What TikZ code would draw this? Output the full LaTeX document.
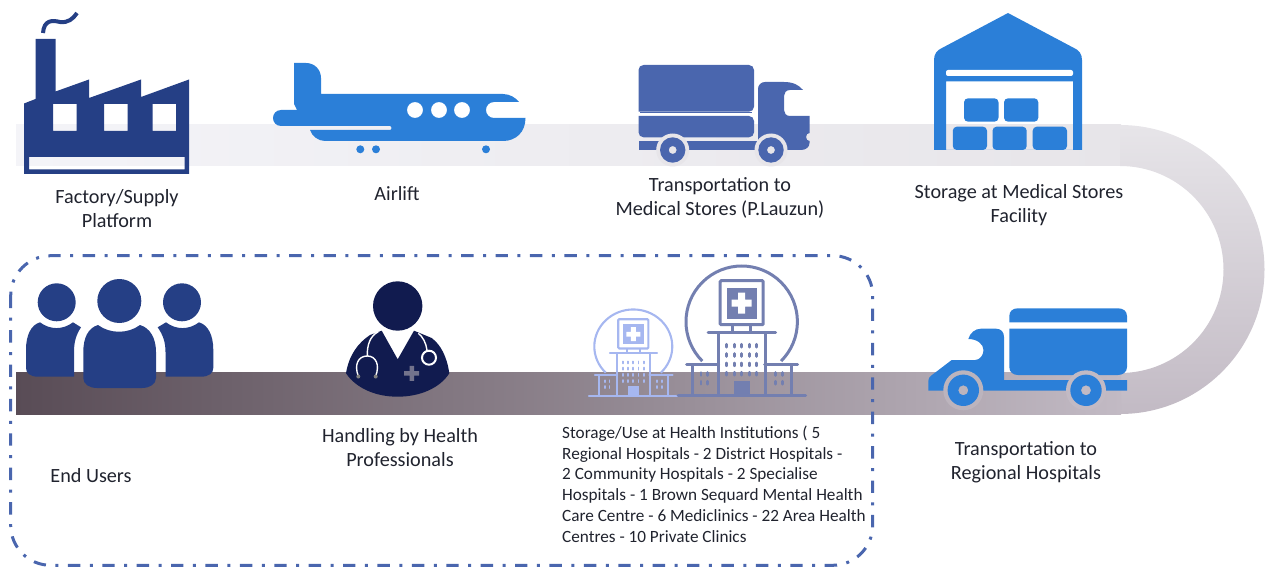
\documentclass[tikz,border=0pt]{standalone}
\usepackage{fontspec}
\setmainfont{Carlito}
\definecolor{navy}{HTML}{253F85}
\definecolor{bluei}{HTML}{2B7FD8}
\definecolor{slate}{HTML}{4A66AE}
\definecolor{docblue}{HTML}{111B4F}
\definecolor{hospA}{HTML}{737FB0}
\definecolor{hospB}{HTML}{A6B7F0}
\definecolor{bandA}{HTML}{F4F4F8}
\definecolor{bandB}{HTML}{E7E5E9}
\definecolor{bandC}{HTML}{C2BAC4}
\definecolor{bandD}{HTML}{594C56}
\definecolor{ink}{HTML}{20232E}
\tikzset{
  lbl/.style={font=\fontsize{20.2}{24}\selectfont,text=ink,align=center,inner sep=0pt,anchor=center},
  small/.style={font=\fontsize{17.2}{20.8}\selectfont,text=ink,align=left,inner sep=0pt,anchor=north west},
}
% hospital icon: centre x, base y, x scale, y scale, colour
\newcommand{\hospicon}[5]{%
\begin{scope}[shift={(#1,#2)},x=#3pt,y=-#4pt,draw=#5,fill=#5,line width=#3*3pt]
  \draw (0,-74) ++(135:55.7) arc[start angle=135,end angle=405,radius=55.7];
  \draw[rounded corners=1pt] (-21.5,-115) rectangle (21.5,-71);
  \fill (-15,-108) rectangle (15,-77);
  \fill[white] (-10,-96) rectangle (10,-89) (-3.5,-103) rectangle (3.5,-82);
  \draw (-9,-71) -- (-9,-64) (9,-71) -- (9,-64);
  \draw[line cap=round] (-33.5,-63.7) -- (34,-63.7);
  \draw (-23.5,-63) -- (-23.5,0) (23.5,-63) -- (23.5,0);
  \draw[line cap=round] (-55,-31.7) -- (-23,-31.7) (23,-31.7) -- (56,-31.7);
  \draw (-49,-31) -- (-49,0) (50,-31) -- (50,0);
  \draw[line cap=round] (-63.5,0) -- (64,0);
  \fill (-8,-15) rectangle (8,0);
  \foreach \cx in {-15,-7.5,0,7.5,15}
    \foreach \cy in {-50,-40.7,-31.3,-22}
      \draw[line width=#3*2.6pt,line cap=round] (\cx,\cy-1.5) -- (\cx,\cy+1.5);
  \foreach \cx in {-40.7,-34,34,41}
    \foreach \cy in {-21.7,-13}
      \draw[line width=#3*2.6pt,line cap=round] (\cx,\cy-1.5) -- (\cx,\cy+1.5);
\end{scope}}
\begin{document}
\begin{tikzpicture}[x=1pt,y=-1pt]
\useasboundingbox (0,0) rectangle (1267,567);
% bands
\shade[left color=bandA,right color=bandB] (16,125) rectangle (1121,166);
\shade[top color=bandB,bottom color=bandC] (1120,125) arc[start angle=270,end angle=450,radius=144.5] -- (1120,373) arc[start angle=450,end angle=270,radius=103.5] -- cycle;
\shade[left color=bandD,right color=bandC] (16,372) rectangle (1121,414);
% factory
\fill[navy,even odd rule] (24,103.5) -- (35.5,99) -- (35.5,39) -- (55.5,39) -- (55.5,91.5) -- (89,79.5) -- (89,98) -- (141,79.5) -- (141,97) -- (189,79.5) -- (189,174) -- (24,174) -- cycle
  (53,104) rectangle (76.5,131) (104,104) rectangle (127.5,131) (152.5,104) rectangle (176,131) (29,157) rectangle (184.5,169.5);
\draw[navy,line width=4pt] (43,33) .. controls (44,20) and (52,20) .. (60,22) .. controls (68,23) and (73,19) .. (77,13);
% plane
\fill[bluei,even odd rule] (294,63) -- (306,63) .. controls (315,63) and (321,70) .. (321,78) -- (321,94) -- (503,94) .. controls (510,94) and (516,98) .. (519,102) -- (494,102) .. controls (489,102) and (486,106) .. (486,110) .. controls (486,114) and (489,118) .. (494,118) -- (525.5,118) .. controls (525.5,132) and (516,141) .. (503,141) -- (325,141) .. controls (318,141) and (312,136) .. (310,130) -- (390,130) .. controls (392,130) and (392,126) .. (390,126) -- (281,126) .. controls (276,126) and (273,122) .. (273,118) .. controls (273,114) and (276,110) .. (281,110) -- (297,110) -- (294,104) -- cycle
 (415,110) circle (8) (439,110) circle (8) (462,110) circle (8);
\fill[bluei] (360.3,149.3) circle (4) (376,149.3) circle (4) (486,149.3) circle (4);
% truck 1
\fill[slate,rounded corners=5pt] (638.5,111.7) -- (638.5,65) -- (754,65) -- (754,111.7) [sharp corners] -- cycle;
\fill[slate] (640,111.7) rectangle (752,112);
\fill[slate,rounded corners=5pt] (638.5,116) -- (638.5,137.3) -- (754,137.3) -- (754,116) [sharp corners] -- cycle;
\fill[slate] (638.5,141) rectangle (760,150);
\fill[slate] (758,150) -- (758,89) .. controls (758,85) and (761,82) .. (765,82) -- (784,82) .. controls (793,82) and (799,85) .. (803,90) -- (790,90) .. controls (786,90) and (784,93) .. (784,96) -- (784,110) .. controls (784,113) and (786,116) .. (790,116) -- (809.5,116) -- (809.5,133) .. controls (805,133) and (805,141) .. (809.5,141) -- (809.5,143) .. controls (809.5,147) and (806,150) .. (801,150) -- cycle;
\fill[bandB] (672.7,150) circle (16.5) (771,150) circle (16.5);
\fill[slate,even odd rule] (672.7,150) circle (12.7) (672.7,150) circle (4) (771,150) circle (12.7) (771,150) circle (4);
% warehouse
\fill[bluei,even odd rule] (1008,13) -- (1074,48) .. controls (1079,50) and (1082,54) .. (1082,60) -- (1082,150) -- (934,150) -- (934,60) .. controls (934,54) and (937,50) .. (942,48) -- cycle
  (946,81.3) rectangle (1073,150);
\fill[white,rounded corners=2pt] (946,70) rectangle (1073,76);
\fill[bluei,rounded corners=4pt] (952.8,126.7) rectangle (987,150) (992.5,126.7) rectangle (1026.7,150) (1032.7,126.7) rectangle (1067,150)
  (964,98.3) rectangle (998.5,121.7) (1004,98.3) rectangle (1038.3,121.7);
% truck 2
\fill[bluei] (1009.3,322.3) -- (1009.3,316) .. controls (1009.3,311) and (1013,308.3) .. (1018,308.3) -- (1118,308.3) .. controls (1123,308.3) and (1127,311) .. (1127,316) -- (1127,322.3) -- cycle;
\fill[bluei] (1009.3,328.7) -- (1127,328.7) -- (1127,367) .. controls (1127,372) and (1123,375) .. (1118,375) -- (1018,375) .. controls (1013,375) and (1009.3,372) .. (1009.3,367) -- cycle;
\fill[bluei] (928.3,390.7) -- (928.3,382) .. controls (928.3,378) and (930,376) .. (932,375) -- (951.7,360) -- (975,360) .. controls (980,360) and (983.5,355) .. (983.5,350) .. controls (983.5,344) and (977,339) .. (968.3,339) .. controls (970,333) and (975,328.7) .. (981,328.7) -- (996,328.7) .. controls (1001,328.7) and (1004,332) .. (1004,337) -- (1004,380) -- (1127,380) -- (1127,390.7) -- cycle;
\fill[bandC!94!bandD] (963.3,390.3) circle (20);
\fill[bandC] (1086,390.3) circle (20);
\fill[bluei,even odd rule] (963.3,390.3) circle (15.7) (963.3,390.3) circle (5) (1086,390.3) circle (15.7) (1086,390.3) circle (5);
% end users
\fill[navy] (56.7,302.3) circle (19) (119.3,301) circle (22) (182,302.3) circle (19);
\fill[navy] (26,350) .. controls (26,335) and (31,325) .. (40,322.3) .. controls (50,330) and (63,330) .. (73,322.3) -- (81,327.3) .. controls (76,335) and (74,342) .. (74,352) -- (74,376.7) -- (38,376.7) .. controls (30,376.7) and (26,373) .. (26,368) -- cycle;
\fill[navy] (83.3,352) .. controls (83.3,338) and (88,328) .. (98,325) .. controls (110,334) and (128,334) .. (140,325) .. controls (150,328) and (156,338) .. (156,352) -- (156,378) .. controls (156,384) and (150,388) .. (142,388) -- (97,388) .. controls (89,388) and (83.3,384) .. (83.3,378) -- cycle;
\fill[navy] (213.3,350) .. controls (213.3,335) and (208,325) .. (199,322.3) .. controls (189,330) and (176,330) .. (166,322.3) -- (157.7,327.3) .. controls (163,335) and (165.5,342) .. (165.5,352) -- (165.5,376.7) -- (201,376.7) .. controls (209,376.7) and (213.3,373) .. (213.3,368) -- cycle;
% doctor
\fill[docblue] (397.7,306) circle (24.7);
\fill[docblue] (346,373.3) .. controls (349,355) and (358,343) .. (370,335) -- (381.7,330.7) -- (397.7,359.3) -- (414,330.7) -- (431.7,338) .. controls (441,345) and (447,357) .. (449.3,373.3) .. controls (440,388) and (420,396.7) .. (397.7,396.7) .. controls (375,396.7) and (356,388) .. (346,373.3) -- cycle;
\draw[white,line width=1.4pt] (378.3,331.7) .. controls (370,336) and (367,345) .. (367.3,356);
\draw[white,line width=1.4pt] (358.3,376) .. controls (354,365) and (358,356) .. (367.3,356) .. controls (376,356) and (380,365) .. (375.7,376);
\draw[white,line width=1.4pt] (418.3,333.3) .. controls (423,337) and (426,343) .. (427,350);
\draw[white,line width=2pt] (429,357.7) circle (7);
\fill[gray] (358.3,376.5) circle (2) (375.7,376.5) circle (2);
\fill[gray!90!blue] (404.2,371) rectangle (419.2,375.6) (409.5,365.8) rectangle (414,380.8);
% hospitals
\hospicon{633.3}{395.7}{0.7}{0.665}{hospB}
\hospicon{741.7}{395.7}{1}{1}{hospA}
% dashed frame
\draw[slate,line width=3pt,dash pattern=on 12.4pt off 9.5pt on 3pt off 9.5pt,rounded corners=40pt] (10.7,255.7) rectangle (872.7,565.3);
% labels
\node[lbl] (factory) at (117,208.5) {Factory/Supply\\Platform};
\node[lbl] (airlift) at (397,194) {Airlift};
\node[lbl] (trans1) at (720,198) {Transportation to\\Medical Stores (P.Lauzun)};
\node[lbl] (store) at (1019,205) {Storage at Medical Stores\\Facility};
\node[lbl] (trans2) at (1026,462) {Transportation to\\Regional Hospitals};
\node[lbl] (users) at (91,476) {End Users};
\node[lbl] (prof) at (400,448) {Handling by Health\\Professionals};
\node[small] (inst) at (562,425.5) {Storage/Use at Health Institutions ( 5\\Regional Hospitals - 2 District Hospitals -\\2 Community Hospitals - 2 Specialise\\Hospitals - 1 Brown Sequard Mental Health\\Care Centre - 6 Mediclinics - 22 Area Health\\Centres - 10 Private Clinics};
\end{tikzpicture}
\end{document}
